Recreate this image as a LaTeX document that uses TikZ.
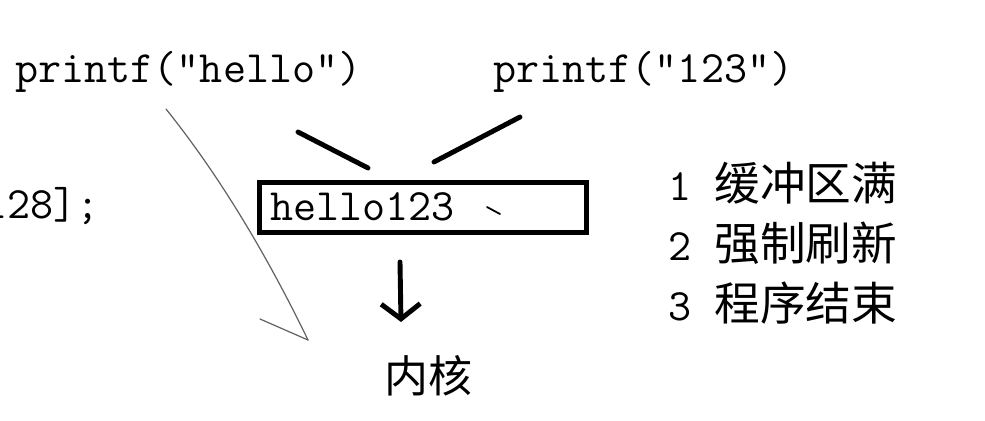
\documentclass[tikz,border=0pt]{standalone}
\usepackage{fontspec}
\newfontfamily\cjk{Noto Sans CJK SC}
\usepackage{xcolor}
\definecolor{penGray}{RGB}{100,100,100}
\usepackage{tikz}
\usetikzlibrary{arrows.meta}
\newcommand{\codefont}{\ttfamily\fontsize{25.5}{30}\selectfont}
\newcommand{\cjkfont}{\cjk\fontsize{26}{30}\selectfont}

\begin{document}
\begin{tikzpicture}[x=0.02cm, y=-0.02cm,
  code/.style={inner sep=0pt, font=\codefont, anchor=base west},
  pen/.style={line width=2.8pt, line cap=round},
  thinpen/.style={line width=0.7pt, penGray, line cap=round}]
  \useasboundingbox (0,0) rectangle (985,420);
  \clip (0,0) rectangle (985,420);

  % the two calls
  \node[code] (hello) at (15,82) {printf("hello")};
  \node[code] (digits) at (493,82) {printf("123")};

  % array line, cut at the left edge
  \node[code, anchor=base east] (decl) at (100,218) {128];};

  % buffer
  \node[draw, line width=2.8pt, minimum width=6.53cm, minimum height=1cm, inner sep=0pt] (buffer) at (423,207.5) {};
  \node[code] (bufText) at (270,220) {hello123};
  \draw[line width=1pt, line cap=round] (487,207) -- (500,214);

  % strokes into the buffer
  \coordinate (leftTop) at (298,132);
  \coordinate (leftEnd) at (368,168);
  \coordinate (rightTop) at (520,117);
  \coordinate (rightEnd) at (434,162);
  \draw[pen] (leftTop) -- (leftEnd);
  \draw[pen] (rightTop) -- (rightEnd);

  % flush to the kernel
  \coordinate (flushTop) at (400,262);
  \coordinate (flushTip) at (401,322);
  \draw[pen, -{Straight Barb[length=0.3cm, width=0.78cm]}] (flushTop) -- (flushTip);
  \node[inner sep=0pt, font=\cjk\fontsize{25}{30}\selectfont] (kernel) at (428,376) {内核};

  % hand drawn arrow from hello
  \coordinate (penStart) at (166,109);
  \coordinate (penTip) at (308,340);
  \coordinate (penBarb) at (260,319);
  \draw[thinpen] (penStart) .. controls (215,170) and (263,247) .. (penTip);
  \draw[thinpen] (penBarb) -- (penTip);

  % when the buffer is flushed
  \node[inner sep=0pt, anchor=base west] (reason1) at (668,200) {{\codefont 1 }{\cjkfont 缓冲区满}};
  \node[inner sep=0pt, anchor=base west] (reason2) at (668,260) {{\codefont 2 }{\cjkfont 强制刷新}};
  \node[inner sep=0pt, anchor=base west] (reason3) at (668,320) {{\codefont 3 }{\cjkfont 程序结束}};
\end{tikzpicture}
\end{document}
